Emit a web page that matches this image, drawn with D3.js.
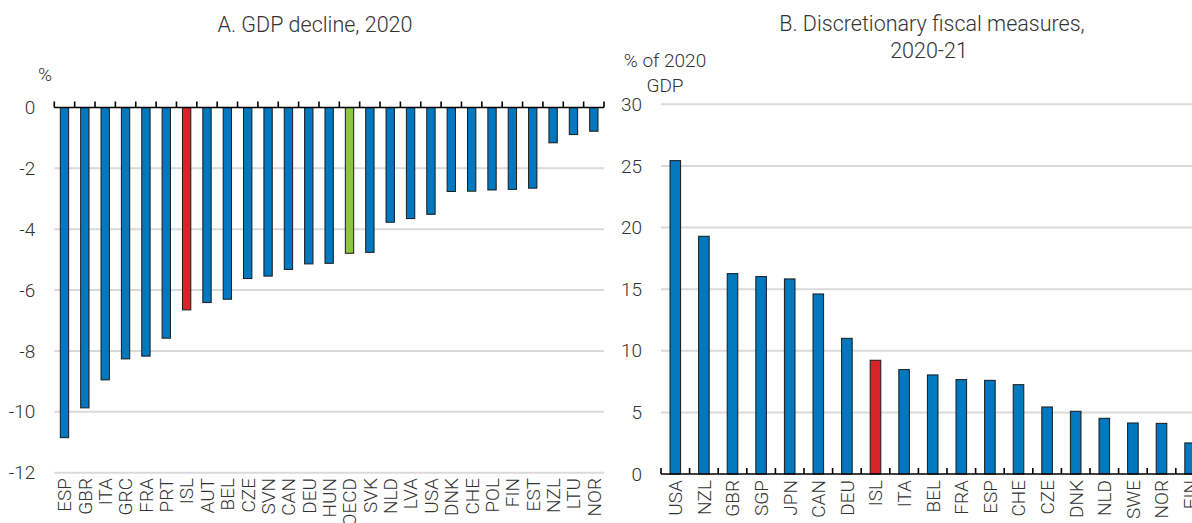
<!DOCTYPE html>
<html>
<head>
<meta charset="utf-8">
<script src="https://cdn.jsdelivr.net/npm/d3@7"></script>
<style>
  body { margin: 0; background: #fff; }
  svg text { font-family: Roboto, "Liberation Sans", sans-serif; font-weight: 300; fill: #333; }
</style>
</head>
<body>
<svg id="chart" width="1192" height="523"></svg>
<script>
// Panel A: GDP decline, 2020 (%)
const gdpCountries = ["ESP","GBR","ITA","GRC","FRA","PRT","ISL","AUT","BEL","CZE","SVN","CAN","DEU","HUN",
                      "OECD","SVK","NLD","LVA","USA","DNK","CHE","POL","FIN","EST","NZL","LTU","NOR"];
const gdpValues = [-10.85,-9.87,-8.95,-8.26,-8.17,-7.58,-6.65,-6.41,-6.30,-5.62,-5.54,-5.32,-5.14,-5.12,
                   -4.79,-4.76,-3.77,-3.65,-3.51,-2.76,-2.75,-2.71,-2.69,-2.65,-1.16,-0.89,-0.78];
const gdpTicks = [0,-2,-4,-6,-8,-10,-12];

// Panel B: Discretionary fiscal measures, 2020-21 (% of 2020 GDP)
const fiscalCountries = ["USA","NZL","GBR","SGP","JPN","CAN","DEU","ISL","ITA","BEL","FRA","ESP","CHE",
                         "CZE","DNK","NLD","SWE","NOR","FIN"];
const fiscalValues = [25.43,19.29,16.26,16.02,15.83,14.61,11.01,9.23,8.47,8.04,7.66,7.60,7.25,
                      5.44,5.09,4.52,4.14,4.11,2.52];
const fiscalTicks = [0,5,10,15,20,25,30];

// colours
const blue = "#0078bf", red = "#d9232a", green = "#8cc63f";
const barColour = c => c === "ISL" ? red : (c === "OECD" ? green : blue);

const svg = d3.select("#chart");

function drawPanel(p) {
    const g = svg.append("g");

    const x = d3.scaleBand()
        .domain(p.cats)
        .range(p.xRange)
        .padding(0);

    const y = d3.scaleLinear()
        .domain(p.yDomain)
        .range(p.yRange);

    const bw = x.bandwidth();
    const w = bw * p.barFrac;

    // gridlines
    g.append("g")
        .selectAll("line")
        .data(p.ticks.filter(t => t !== 0))
        .join("line")
        .attr("x1", p.xRange[0])
        .attr("x2", p.gridEnd)
        .attr("y1", d => y(d))
        .attr("y2", d => y(d))
        .attr("stroke", "#dadada")
        .attr("stroke-width", 2);

    // y axis labels (no line), plain hyphen for negatives
    const yAxis = g.append("g")
        .attr("transform", "translate(" + (p.xRange[0] - 19) + ",0)")
        .call(d3.axisLeft(y).tickValues(p.ticks).tickSize(0).tickPadding(0).tickFormat(d => String(d)));
    yAxis.select(".domain").remove();
    yAxis.selectAll("text")
        .attr("font-size", 19)
        .attr("fill", "#333")
        .style("font-family", null);

    // bars
    g.append("g")
        .selectAll("rect")
        .data(p.cats.map((c, i) => ({c: c, v: p.vals[i]})))
        .join("rect")
        .attr("x", d => x(d.c) + (bw - w) / 2)
        .attr("y", d => Math.min(y(d.v), y(0)))
        .attr("width", w)
        .attr("height", d => Math.abs(y(d.v) - y(0)))
        .attr("fill", d => barColour(d.c))
        .attr("stroke", "#1a1a1a")
        .attr("stroke-width", 1);

    // zero axis with upward ticks at category boundaries
    const bounds = p.cats.map(c => x(c)).concat([x(p.cats[p.cats.length - 1]) + bw]);
    g.append("line")
        .attr("x1", p.xRange[0])
        .attr("x2", p.axisEnd)
        .attr("y1", y(0))
        .attr("y2", y(0))
        .attr("stroke", "#000")
        .attr("stroke-width", 1.6);
    g.append("g")
        .selectAll("line")
        .data(bounds)
        .join("line")
        .attr("x1", d => d)
        .attr("x2", d => d)
        .attr("y1", y(0))
        .attr("y2", y(0) - 6)
        .attr("stroke", "#000")
        .attr("stroke-width", 1.6);

    // category labels, rotated, at the bottom
    const xAxis = g.append("g")
        .attr("transform", "translate(0," + p.labelY + ")")
        .call(d3.axisBottom(x).tickSize(0).tickPadding(0));
    xAxis.select(".domain").remove();
    xAxis.selectAll("text")
        .attr("transform", "rotate(-90)")
        .attr("x", 0)
        .attr("y", 0)
        .attr("dy", "0.36em")
        .attr("text-anchor", "end")
        .attr("font-size", 19)
        .attr("fill", "#333")
        .style("font-family", null);

    return g;
}

// Panel A
drawPanel({
    cats: gdpCountries, vals: gdpValues, ticks: gdpTicks,
    xRange: [54.3, 604], yDomain: [-12, 0], yRange: [472.7, 107.5],
    gridEnd: 604, axisEnd: 604, barFrac: 0.41, labelY: 478
});

// Panel B (continues past the right edge of the picture)
const bandB = 28.6;
drawPanel({
    cats: fiscalCountries, vals: fiscalValues, ticks: fiscalTicks,
    xRange: [661, 661 + bandB * fiscalCountries.length], yDomain: [0, 30], yRange: [474, 104.3],
    gridEnd: 1300, axisEnd: 1300, barFrac: 0.37, labelY: 480
});

// titles and unit labels
svg.append("text").attr("x", 315).attr("y", 32).attr("text-anchor", "middle")
    .attr("font-size", 21.5).text("A. GDP decline, 2020");
svg.append("text").attr("x", 45).attr("y", 81).attr("text-anchor", "middle")
    .attr("font-size", 19).text("%");

svg.append("text").attr("x", 932).attr("y", 31).attr("text-anchor", "middle")
    .attr("font-size", 21.5).text("B. Discretionary fiscal measures,");
svg.append("text").attr("x", 929).attr("y", 58).attr("text-anchor", "middle")
    .attr("font-size", 21.5).text("2020-21");
svg.append("text").attr("x", 665).attr("y", 67).attr("text-anchor", "middle")
    .attr("font-size", 19).text("% of 2020");
svg.append("text").attr("x", 665).attr("y", 92).attr("text-anchor", "middle")
    .attr("font-size", 19).text("GDP");
</script>
</body>
</html>
